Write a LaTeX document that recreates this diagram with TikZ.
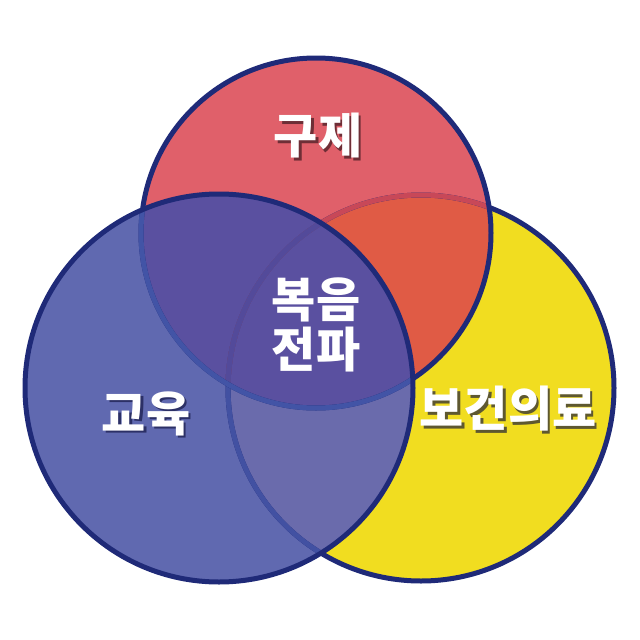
\documentclass[tikz,border=0pt]{standalone}
\usepackage{fontspec}
\newfontfamily\kr{Noto Sans CJK KR}
\definecolor{yfill}{HTML}{F1DD20}
\definecolor{rfill}{HTML}{E0606A}
\definecolor{ofill}{HTML}{E05B45}
\definecolor{bfill}{HTML}{6069B0}
\definecolor{byfill}{HTML}{6A6BAC}
\definecolor{pfill}{HTML}{5A50A0}
\definecolor{navy}{HTML}{1F2A78}
\definecolor{yinred}{HTML}{C84858}
\definecolor{yinblue}{HTML}{4251A2}
\definecolor{yinpurple}{HTML}{534A9A}
\definecolor{rinblue}{HTML}{4254A6}
\definecolor{shdred}{HTML}{6E2E36}
\definecolor{shdblue}{HTML}{2C3066}
\definecolor{shdyel}{HTML}{5E5830}
\newcommand{\shdtext}[2]{\makebox[0pt][l]{\hspace{2.5pt}\raisebox{-2.5pt}{\textcolor{#1}{#2}}}#2}
\tikzset{
  ring/.style={line width=5pt},
  lbl/.style={font=\kr\bfseries\fontsize{48}{50}\selectfont, text=white, inner sep=0pt, align=center},
}
\begin{document}
\begin{tikzpicture}[x=1pt,y=-1pt]
\useasboundingbox (0,0) rectangle (640,640);
\coordinate (Y) at (421,388);
\coordinate (R) at (316,233);
\coordinate (B) at (219,388);
\def\rY{193}\def\rR{175}\def\rB{194}
% fills
\fill[yfill] (Y) circle[radius=\rY];
\fill[rfill] (R) circle[radius=\rR];
\begin{scope}\clip (R) circle[radius=\rR]; \fill[ofill] (Y) circle[radius=\rY];\end{scope}
\fill[bfill] (B) circle[radius=\rB];
\begin{scope}\clip (B) circle[radius=\rB];
  \fill[byfill] (Y) circle[radius=\rY];
  \fill[pfill] (R) circle[radius=\rR];
\end{scope}
% outlines
\draw[ring, navy] (Y) circle[radius=\rY];
\begin{scope}\clip (R) circle[radius=\rR]; \draw[ring, yinred] (Y) circle[radius=\rY];\end{scope}
\begin{scope}\clip (B) circle[radius=\rB]; \draw[ring, yinblue] (Y) circle[radius=\rY];\end{scope}
\begin{scope}\clip (B) circle[radius=\rB]; \clip (R) circle[radius=\rR]; \draw[ring, yinpurple] (Y) circle[radius=\rY];\end{scope}
\draw[ring, navy] (R) circle[radius=\rR];
\begin{scope}\clip (B) circle[radius=\rB]; \draw[ring, rinblue] (R) circle[radius=\rR];\end{scope}
\draw[ring, navy] (B) circle[radius=\rB];
% labels
\node[lbl] (t1) at (318,137) {\shdtext{shdred}{구제}};
\node[lbl] (t3) at (146,415) {\shdtext{shdblue}{교육}};
\node[lbl] (t4) at (508,410) {\shdtext{shdyel}{보건의료}};
\node[lbl] (t2) at (316,325) {복음\\전파};
\end{tikzpicture}
\end{document}
